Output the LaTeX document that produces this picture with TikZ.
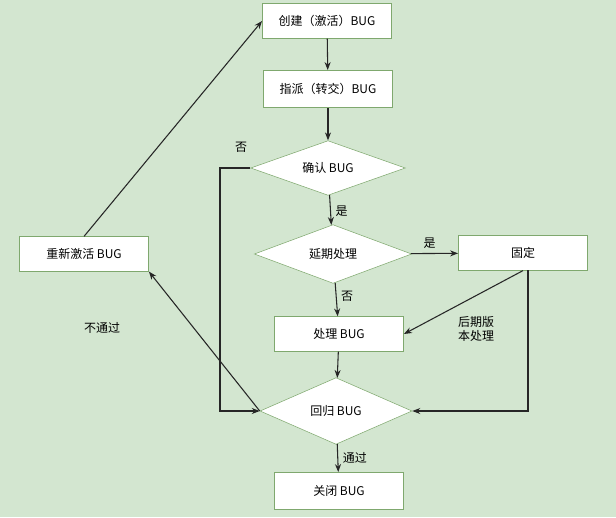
\documentclass[tikz,border=0pt]{standalone}
\usepackage{fontspec}
\newfontfamily\cjk{Noto Sans CJK SC}
\usetikzlibrary{shapes.geometric,arrows.meta}
\definecolor{bg}{HTML}{D3E6D0}
\definecolor{edge}{HTML}{7FA86E}
\begin{document}
\begin{tikzpicture}[x=0.75pt,y=-0.75pt,
  box/.style={draw=edge,fill=white,minimum width=97pt,minimum height=26pt,font=\cjk\small},
  dia/.style={diamond,draw=edge,fill=white,aspect=3,inner sep=1pt,font=\cjk\small},
  arr/.style={draw=black!85,thick,-{Stealth[length=6pt]}},
  lab/.style={font=\cjk\small}]
\fill[bg] (0,0) rectangle (616,517);
\useasboundingbox (0,0) rectangle (616,517);
\node[box] (create) at (327,21) {创建（激活）BUG};
\node[box,minimum height=28pt] (assign) at (328,89) {指派（转交）BUG};
\node[dia,minimum width=116pt,minimum height=41pt] (confirm) at (328,168) {确认 BUG};
\node[dia,minimum width=118pt,minimum height=44pt] (delay) at (333,254) {延期处理};
\node[box] (fixed) at (523,253) {固定};
\node[box] (handle) at (339,334) {处理 BUG};
\node[dia,minimum width=114pt,minimum height=50pt] (reg) at (336,411) {回归 BUG};
\node[box,minimum height=28pt] (close) at (339,491) {关闭 BUG};
\node[box] (react) at (84,254) {重新激活 BUG};
\coordinate (c1) at (220,168);
\coordinate (c2) at (220,411);
\coordinate (f1) at (528,270);
\coordinate (f2) at (528,411);
\draw[arr] (create) -- (assign);
\draw[arr] (assign) -- (confirm);
\draw[arr] (confirm) -- node[lab,right,pos=0.55]{是} (delay);
\draw[arr] (confirm.west) -- (c1) -- (c2) -- (reg.west);
\node[lab] at (241,147) {否};
\draw[arr] (delay) -- node[lab,above,pos=0.4]{是} (fixed);
\draw[arr] (delay) -- node[lab,right,pos=0.4]{否} (handle);
\draw[arr] (fixed.south) -- (handle.east);
\node[lab,align=left] at (476,329) {后期版\\本处理};
\draw[arr] (f1) -- (f2) -- (reg.east);
\draw[arr] (handle) -- (reg);
\draw[arr] (reg) -- node[lab,right]{通过} (close);
\draw[arr] (reg.west) -- (react.south east);
\node[lab] at (102,328) {不通过};
\draw[arr] (react.north) -- (create.west);
\end{tikzpicture}
\end{document}
